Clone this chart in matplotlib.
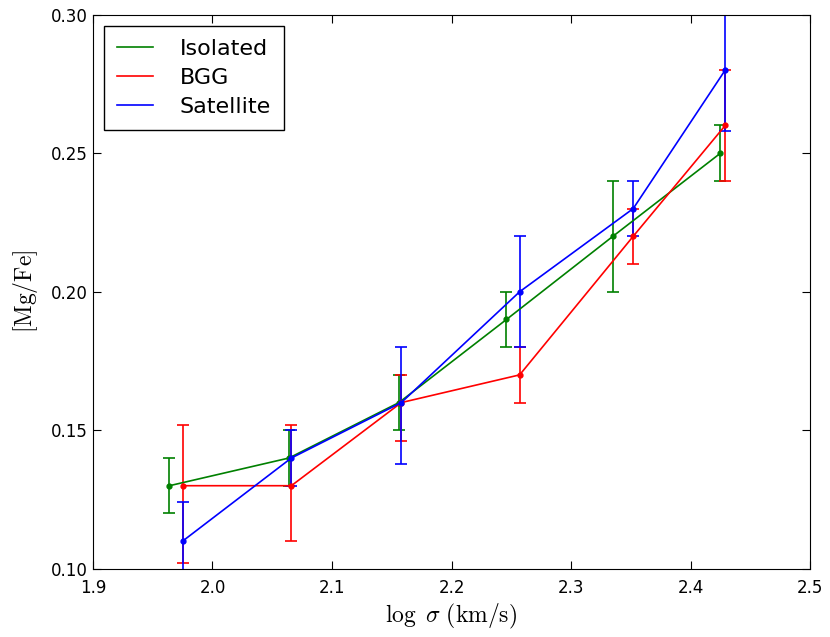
import numpy as np
import matplotlib
matplotlib.use('Agg')
import matplotlib.pyplot as plt
from matplotlib.lines import Line2D

plt.rcParams['mathtext.fontset'] = 'cm'

# log sigma positions for each sample
x_iso = [1.964, 2.064, 2.156, 2.246, 2.335, 2.425]
x_bgg = [1.975, 2.066, 2.158, 2.257, 2.352, 2.429]
x_sat = [1.975, 2.066, 2.158, 2.257, 2.352, 2.429]

# [Mg/Fe] values
y_iso = [0.13, 0.14, 0.16, 0.19, 0.22, 0.25]
y_bgg = [0.13, 0.13, 0.16, 0.17, 0.22, 0.26]
y_sat = [0.11, 0.14, 0.16, 0.20, 0.23, 0.28]

# errors (lower, upper)
iso_lo = [0.01, 0.01, 0.01, 0.01, 0.02, 0.01]
iso_hi = [0.01, 0.01, 0.01, 0.01, 0.02, 0.01]
bgg_lo = [0.028, 0.02, 0.014, 0.01, 0.01, 0.02]
bgg_hi = [0.022, 0.022, 0.01, 0.01, 0.01, 0.02]
sat_lo = [0.014, 0.01, 0.022, 0.02, 0.01, 0.022]
sat_hi = [0.014, 0.01, 0.02, 0.02, 0.01, 0.022]

labels = ['Isolated', 'BGG', 'Satellite']
colors = ['green', 'red', 'blue']

fig = plt.figure(figsize=(8.3, 6.37), dpi=100)
ax = fig.add_axes([0.112, 0.107, 0.864, 0.87])

series = [(x_iso, y_iso, iso_lo, iso_hi), (x_bgg, y_bgg, bgg_lo, bgg_hi), (x_sat, y_sat, sat_lo, sat_hi)]
for (x, y, lo, hi), c in zip(series, colors):
    ax.errorbar(x, y, yerr=[lo, hi], color=c, marker='o', markersize=3.5, lw=1.2,
                capsize=4, capthick=1.2, elinewidth=1.2)

ax.set_xlim(1.9, 2.5)
ax.set_ylim(0.10, 0.30)
ax.set_xticks(np.arange(1.9, 2.51, 0.1))
ax.set_yticks(np.arange(0.10, 0.301, 0.05))
ax.xaxis.set_major_formatter(plt.FormatStrFormatter('%.1f'))
ax.yaxis.set_major_formatter(plt.FormatStrFormatter('%.2f'))
ax.tick_params(direction='in', top=True, right=True, length=6, labelsize=12)
ax.tick_params(axis='x', pad=7)

ax.set_xlabel(r'$\log\ \sigma\ \mathrm{(km/s)}$', fontsize=17)
ax.set_ylabel(r'$\mathrm{[Mg/Fe]}$', fontsize=17, labelpad=8)

handles = [Line2D([], [], color=c, lw=1.2) for c in colors]
leg = ax.legend(handles, labels, loc='upper left', fontsize=16, handlelength=1.6,
                handletextpad=1.2, fancybox=False, framealpha=1, borderpad=0.6,
                borderaxespad=0.5, labelspacing=0.4)
leg.get_frame().set_edgecolor('black')

fig.savefig('out.png', dpi=100)
